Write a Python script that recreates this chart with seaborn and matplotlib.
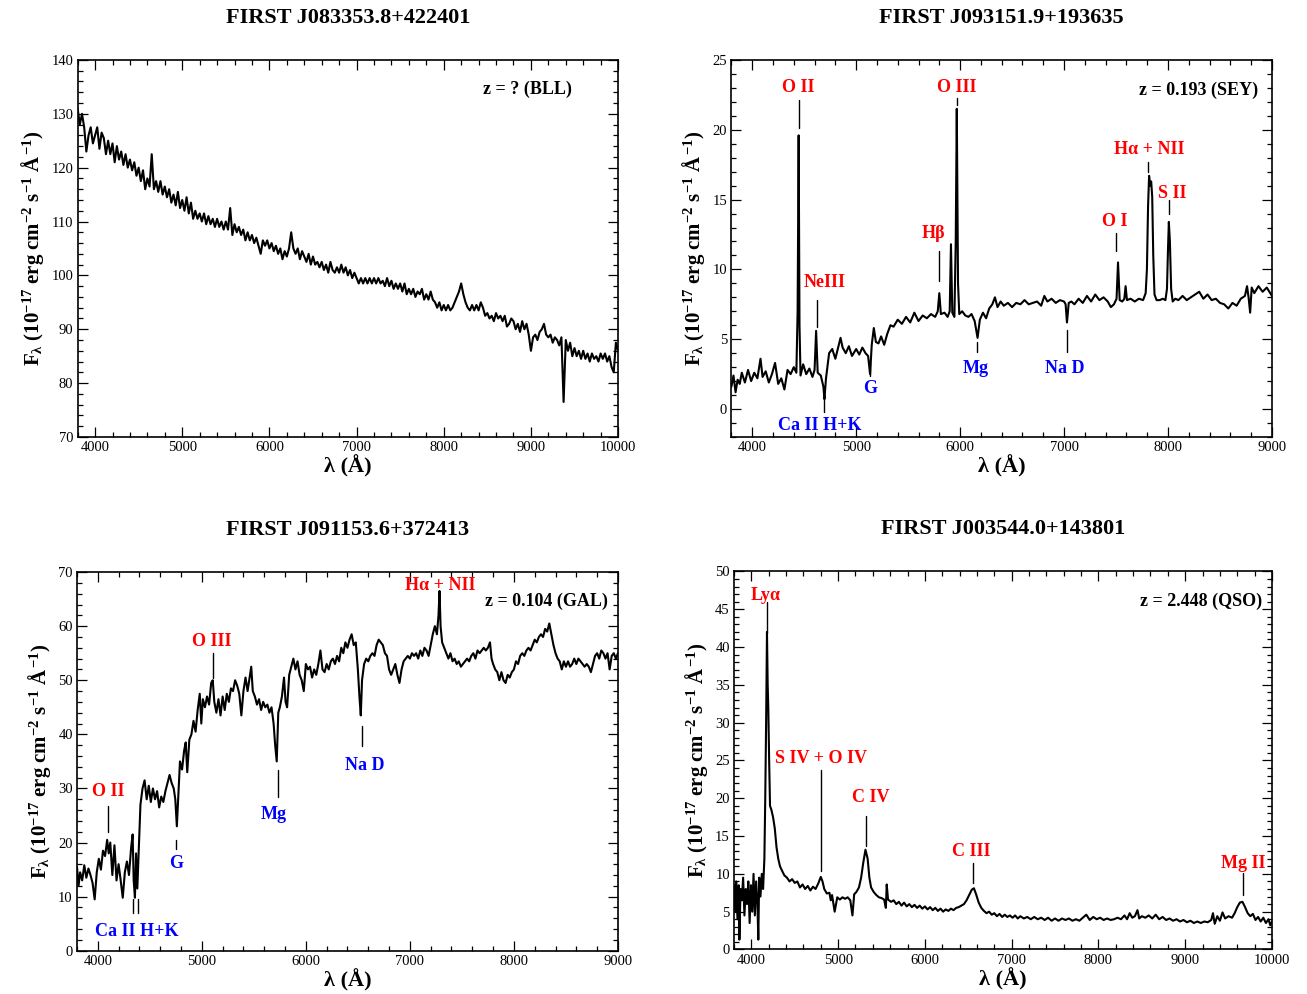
import matplotlib.pyplot as plt
import seaborn as sns
from matplotlib.ticker import MultipleLocator

# ---- spectrum 1: BL Lac, FIRST J083353.8+422401
wave_bll = [3800, 3825, 3850, 3875, 3900, 3925, 3950, 3975, 4000, 4025, 4050, 4075, 4100, 4125,
            4150, 4175, 4200, 4225, 4250, 4275, 4300, 4325, 4350, 4375, 4400, 4425, 4450, 4475,
            4500, 4525, 4550, 4575, 4600, 4625, 4650, 4675, 4700, 4725, 4750, 4775, 4800, 4825,
            4850, 4875, 4900, 4925, 4950, 4975, 5000, 5025, 5050, 5075, 5100, 5125, 5150, 5175,
            5200, 5225, 5250, 5275, 5300, 5325, 5350, 5375, 5400, 5425, 5450, 5475, 5500, 5525,
            5550, 5575, 5600, 5625, 5650, 5675, 5700, 5725, 5750, 5775, 5800, 5825, 5850, 5875,
            5900, 5925, 5950, 5975, 6000, 6025, 6050, 6075, 6100, 6125, 6150, 6175, 6200, 6225,
            6250, 6275, 6300, 6325, 6350, 6375, 6400, 6425, 6450, 6475, 6500, 6525, 6550, 6575,
            6600, 6625, 6650, 6675, 6700, 6725, 6750, 6775, 6800, 6825, 6850, 6875, 6900, 6925,
            6950, 6975, 7000, 7025, 7050, 7075, 7100, 7125, 7150, 7175, 7200, 7225, 7250, 7275,
            7300, 7325, 7350, 7375, 7400, 7425, 7450, 7475, 7500, 7525, 7550, 7575, 7600, 7625,
            7650, 7675, 7700, 7725, 7750, 7775, 7800, 7825, 7850, 7875, 7900, 7925, 7950, 7975,
            8000, 8025, 8050, 8075, 8100, 8125, 8150, 8175, 8200, 8225, 8250, 8275, 8300, 8325,
            8350, 8375, 8400, 8425, 8450, 8475, 8500, 8525, 8550, 8575, 8600, 8625, 8650, 8675,
            8700, 8725, 8750, 8775, 8800, 8825, 8850, 8875, 8900, 8925, 8950, 8975, 9000, 9025,
            9050, 9075, 9100, 9125, 9150, 9175, 9200, 9225, 9250, 9275, 9300, 9325, 9350, 9375,
            9400, 9425, 9450, 9475, 9500, 9525, 9550, 9575, 9600, 9625, 9650, 9675, 9700, 9725,
            9750, 9775, 9800, 9825, 9850, 9875, 9900, 9925, 9950, 9975, 10000]
flux_bll = [131, 128, 130, 127.5, 123, 126, 127.5, 124.5, 126, 127.5, 123.5, 126.5, 125.5, 122.5,
            125, 122.5, 124.5, 121, 124, 121.5, 123, 120.5, 122.5, 120, 121.5, 119.5, 121, 118.5,
            120, 117.5, 119.5, 116, 118, 116.5, 122.5, 116, 117.5, 115.5, 117.5, 115, 116.5, 114.5,
            116, 113.5, 115, 113, 115.5, 112.5, 114, 112, 114.5, 111.5, 113.5, 110.5, 112, 110.5,
            111.5, 110, 111.5, 109.5, 111, 109.5, 110.5, 109, 110.5, 109, 110, 108.5, 110, 108.5,
            112.5, 107.5, 109.5, 108, 109, 107.5, 108.5, 106.5, 108, 106.5, 107.5, 106, 107, 105.5,
            104, 106.5, 105.5, 106.5, 105, 106, 104.5, 105.5, 104, 105, 103, 104.5, 103.5, 105,
            108, 105, 104, 105, 103, 104.5, 103.5, 102.5, 104, 102, 103.5, 102, 102.5, 101.5,
            102.5, 101, 102, 100.5, 102.5, 101, 100.5, 101.5, 100.5, 102, 100.5, 101.5, 100, 101,
            99.5, 100.5, 99.5, 98.5, 99.5, 98.5, 99.5, 98.5, 99.5, 98.5, 99.5, 98.5, 99.5, 98.5,
            99, 98, 99.5, 98, 99, 97.5, 98.5, 97.5, 98.5, 97, 98.5, 96.5, 97.5, 96.5,
            97.5, 96, 97, 96.5, 97.5, 95.5, 96.5, 95.5, 97, 95.5, 95, 94, 95, 93.5,
            94.5, 93.5, 94.5, 93.5, 94, 95, 96, 97, 98.5, 96.5, 95, 94, 93.5, 94.5,
            93.5, 94.5, 93.5, 95, 94, 92.5, 93, 92, 92.5, 91.5, 93, 92, 92.5, 91.5,
            92.5, 90.5, 91, 92, 91.5, 90, 91, 89.5, 91.5, 90, 91, 89, 86, 88.5,
            89, 88, 89.5, 90, 91, 89, 88.5, 89, 87.5, 88.5, 88, 87, 88.5, 76.5,
            88, 86, 87.5, 85, 86.5, 85, 86, 84.5, 86, 84.5, 85.5, 84, 85.5, 84.5,
            85, 84, 85.5, 84.5, 85.5, 84, 85, 83, 82, 87.5, 86]

# ---- spectrum 2: Seyfert, FIRST J093151.9+193635
wave_sey = [3800, 3820, 3840, 3860, 3880, 3900, 3930, 3960, 3990, 4020, 4050, 4080, 4100, 4130,
            4160, 4190, 4220, 4250, 4280, 4310, 4340, 4370, 4400, 4425, 4437, 4447, 4455, 4465,
            4490, 4520, 4550, 4580, 4600, 4615, 4630, 4660, 4685, 4695, 4710, 4740, 4770, 4800,
            4830, 4850, 4870, 4900, 4930, 4960, 5000, 5030, 5060, 5090, 5115, 5134, 5150, 5170,
            5190, 5215, 5240, 5270, 5300, 5330, 5360, 5400, 5440, 5480, 5520, 5560, 5600, 5640,
            5680, 5720, 5760, 5785, 5800, 5815, 5850, 5880, 5900, 5912, 5925, 5945, 5958, 5968,
            5980, 5992, 6020, 6050, 6080, 6110, 6140, 6168, 6190, 6220, 6250, 6280, 6310, 6335,
            6360, 6390, 6420, 6460, 6500, 6540, 6580, 6620, 6660, 6700, 6740, 6780, 6810, 6840,
            6880, 6920, 6960, 7000, 7015, 7028, 7045, 7070, 7100, 7140, 7180, 7220, 7260, 7300,
            7340, 7380, 7420, 7450, 7480, 7505, 7519, 7535, 7560, 7580, 7592, 7605, 7640, 7680,
            7720, 7760, 7785, 7797, 7808, 7818, 7828, 7838, 7848, 7858, 7870, 7890, 7920, 7950,
            7975, 7990, 8000, 8008, 8018, 8030, 8045, 8070, 8100, 8140, 8180, 8220, 8260, 8300,
            8340, 8380, 8420, 8460, 8500, 8540, 8580, 8620, 8660, 8700, 8740, 8760, 8775, 8790,
            8805, 8830, 8870, 8910, 8950, 9000]
flux_sey = [1.6, 2.4, 1.2, 2.1, 1.8, 2.6, 1.9, 2.8, 2.0, 2.6, 2.2, 3.6, 2.3, 2.7,
            1.9, 2.5, 3.3, 1.8, 2.2, 1.4, 2.8, 2.5, 3.0, 2.6, 7.0, 19.6, 6.0, 2.4,
            3.2, 2.5, 2.9, 2.3, 2.8, 5.6, 2.6, 2.4, 1.6, 0.7, 2.2, 4.0, 4.3, 3.6,
            4.5, 5.1, 4.4, 4.0, 4.5, 3.8, 4.3, 3.9, 4.4, 4.0, 3.8, 2.5, 4.6, 5.8,
            4.8, 4.7, 5.2, 4.6, 5.4, 6.0, 5.9, 6.4, 6.1, 6.6, 6.2, 6.9, 6.3, 6.7,
            6.5, 6.8, 6.6, 7.0, 8.3, 6.8, 6.9, 6.6, 7.0, 11.8, 6.9, 6.6, 12.0, 21.5,
            9.0, 6.8, 7.0, 6.7, 6.6, 6.8, 6.3, 5.1, 6.4, 6.9, 6.5, 7.2, 7.5, 8.0,
            7.3, 7.7, 7.4, 7.6, 7.3, 7.6, 7.5, 7.8, 7.5, 7.6, 7.7, 7.4, 8.1, 7.7,
            7.9, 7.6, 7.8, 7.7, 7.5, 6.2, 7.6, 7.7, 7.5, 7.9, 7.6, 8.1, 7.7, 8.2,
            7.8, 8.0, 7.7, 7.3, 7.5, 7.9, 10.5, 7.8, 7.7, 7.9, 8.8, 7.8, 7.9, 7.7,
            7.9, 7.8, 8.3, 10.0, 14.5, 16.7, 16.0, 16.3, 15.2, 11.0, 8.2, 7.8, 7.8, 7.9,
            7.8, 8.6, 11.5, 13.4, 12.0, 8.6, 7.7, 7.9, 7.8, 8.1, 7.8, 8.0, 8.2, 8.4,
            7.9, 8.2, 7.8, 7.9, 7.6, 7.5, 7.2, 7.6, 7.4, 7.9, 8.1, 8.8, 8.0, 6.9,
            8.7, 8.3, 8.8, 8.4, 8.7, 8.1]

# ---- spectrum 3: galaxy, FIRST J091153.6+372413
wave_gal = [3800, 3815, 3830, 3850, 3870, 3890, 3910, 3930, 3950, 3970, 3990, 4010, 4030, 4050,
            4070, 4090, 4105, 4120, 4140, 4160, 4180, 4200, 4220, 4240, 4260, 4280, 4300, 4320,
            4335, 4345, 4357, 4368, 4380, 4395, 4410, 4430, 4450, 4470, 4490, 4510, 4530, 4550,
            4570, 4590, 4610, 4630, 4650, 4670, 4690, 4710, 4730, 4745, 4760, 4775, 4790, 4810,
            4830, 4845, 4860, 4880, 4900, 4920, 4940, 4960, 4980, 4995, 5010, 5030, 5050, 5070,
            5090, 5105, 5120, 5140, 5160, 5180, 5200, 5220, 5240, 5260, 5280, 5300, 5320, 5340,
            5360, 5380, 5400, 5420, 5440, 5460, 5475, 5490, 5510, 5530, 5550, 5570, 5590, 5610,
            5630, 5650, 5670, 5690, 5705, 5720, 5735, 5750, 5770, 5790, 5805, 5820, 5840, 5860,
            5880, 5900, 5920, 5940, 5960, 5980, 6000, 6020, 6040, 6060, 6080, 6100, 6120, 6140,
            6160, 6180, 6200, 6220, 6240, 6260, 6280, 6300, 6320, 6340, 6360, 6380, 6400, 6420,
            6440, 6460, 6480, 6500, 6515, 6528, 6540, 6560, 6580, 6600, 6620, 6640, 6660, 6680,
            6700, 6720, 6740, 6760, 6780, 6800, 6820, 6840, 6860, 6880, 6900, 6920, 6940, 6960,
            6980, 7000, 7020, 7040, 7060, 7080, 7100, 7120, 7140, 7160, 7180, 7200, 7220, 7240,
            7260, 7275, 7285, 7295, 7310, 7330, 7350, 7370, 7390, 7410, 7430, 7450, 7470, 7490,
            7510, 7530, 7550, 7570, 7590, 7610, 7630, 7650, 7670, 7690, 7710, 7730, 7750, 7770,
            7785, 7800, 7820, 7840, 7860, 7880, 7900, 7920, 7940, 7960, 7980, 8000, 8020, 8040,
            8060, 8080, 8100, 8120, 8140, 8160, 8180, 8200, 8220, 8240, 8260, 8280, 8300, 8320,
            8340, 8360, 8380, 8400, 8420, 8440, 8460, 8480, 8500, 8520, 8540, 8560, 8580, 8600,
            8620, 8640, 8660, 8680, 8700, 8720, 8740, 8760, 8780, 8800, 8820, 8840, 8860, 8880,
            8900, 8920, 8940, 8960, 8980, 9000]
flux_gal = [15.5, 12.0, 14.5, 13.0, 15.8, 13.5, 15.2, 14.0, 12.5, 9.5, 14.5, 17.0, 15.0, 18.5,
            17.5, 20.5, 18.0, 20.0, 14.0, 19.5, 13.0, 16.0, 13.0, 9.8, 14.5, 16.5, 14.0, 19.0,
            21.5, 13.0, 9.8, 18.0, 11.5, 19.0, 27.0, 30.0, 31.5, 28.0, 30.5, 27.5, 30.0, 28.0,
            29.5, 26.5, 28.5, 27.5, 29.5, 31.0, 32.5, 31.0, 30.0, 28.0, 23.0, 29.0, 35.0, 33.5,
            37.0, 38.5, 33.0, 39.0, 40.0, 42.5, 40.5, 44.5, 47.5, 42.0, 46.5, 45.0, 47.0, 45.5,
            49.5, 50.0, 46.0, 44.0, 46.5, 43.5, 47.0, 44.5, 47.5, 46.0, 48.5, 48.0, 50.0, 49.0,
            47.5, 43.5, 48.0, 50.5, 48.0, 50.5, 52.5, 48.0, 47.0, 45.5, 46.5, 44.5, 46.0, 45.0,
            45.5, 44.0, 45.0, 42.0, 38.0, 35.0, 44.0, 45.0, 47.0, 50.5, 46.0, 45.0, 51.0, 52.5,
            54.0, 52.0, 53.5, 51.0, 50.0, 48.0, 53.0, 52.0, 52.5, 50.5, 52.0, 51.0, 53.0, 55.5,
            52.0, 51.5, 53.0, 52.0, 53.5, 54.0, 53.0, 54.5, 53.5, 56.0, 55.0, 57.0, 56.0, 57.5,
            58.5, 56.5, 57.0, 52.0, 47.0, 43.5, 50.0, 53.0, 54.0, 53.5, 54.5, 55.0, 54.5, 56.5,
            57.5, 57.0, 56.5, 55.0, 54.5, 52.0, 51.0, 52.0, 53.0, 51.0, 49.5, 52.0, 53.5, 54.0,
            54.5, 54.0, 55.0, 54.5, 55.0, 54.0, 55.5, 54.5, 56.0, 55.5, 54.5, 56.5, 58.5, 60.0,
            58.5, 62.0, 66.5, 60.0, 57.0, 56.0, 55.0, 54.0, 55.0, 53.5, 54.0, 53.0, 53.5, 52.5,
            53.0, 53.5, 54.0, 53.5, 54.5, 55.0, 54.0, 55.5, 55.0, 55.5, 56.0, 55.5, 56.0, 57.0,
            54.0, 53.0, 52.0, 51.5, 50.0, 51.5, 50.0, 49.5, 51.0, 50.5, 51.5, 52.0, 53.5, 53.0,
            54.5, 55.0, 54.5, 55.5, 56.0, 55.5, 56.5, 57.5, 57.0, 58.0, 58.5, 58.0, 59.5, 59.0,
            60.5, 58.5, 56.5, 55.0, 54.0, 53.5, 52.0, 53.5, 52.5, 53.5, 52.5, 53.0, 54.0, 53.0,
            54.0, 53.5, 53.0, 52.5, 53.0, 52.5, 51.5, 53.0, 54.5, 55.0, 54.0, 55.5, 55.0, 54.0,
            55.0, 52.0, 54.5, 55.0, 54.0, 55.0]

# ---- spectrum 4: quasar, FIRST J003544.0+143801
wave_qso = [3800, 3815, 3825, 3840, 3855, 3862, 3875, 3890, 3905, 3920, 3935, 3950, 3965, 3980,
            3995, 4010, 4025, 4040, 4055, 4070, 4080, 4090, 4105, 4120, 4135, 4150, 4160, 4170,
            4180, 4188, 4195, 4205, 4215, 4230, 4250, 4270, 4290, 4310, 4330, 4350, 4380, 4410,
            4440, 4470, 4500, 4530, 4560, 4590, 4620, 4650, 4680, 4710, 4740, 4770, 4800, 4820,
            4840, 4870, 4900, 4915, 4930, 4960, 4990, 5020, 5050, 5080, 5110, 5140, 5165, 5185,
            5210, 5240, 5265, 5290, 5315, 5340, 5360, 5380, 5410, 5440, 5470, 5500, 5530, 5550,
            5560, 5575, 5610, 5640, 5670, 5700, 5730, 5760, 5790, 5820, 5850, 5880, 5910, 5940,
            5970, 6000, 6030, 6060, 6090, 6120, 6150, 6180, 6210, 6240, 6270, 6300, 6330, 6360,
            6390, 6420, 6450, 6480, 6510, 6540, 6565, 6590, 6620, 6650, 6680, 6710, 6740, 6770,
            6800, 6830, 6860, 6890, 6920, 6950, 6980, 7010, 7040, 7070, 7100, 7140, 7180, 7220,
            7260, 7300, 7340, 7380, 7420, 7460, 7500, 7540, 7580, 7620, 7660, 7700, 7740, 7780,
            7820, 7860, 7900, 7940, 7980, 8020, 8060, 8100, 8140, 8180, 8220, 8260, 8300, 8330,
            8360, 8390, 8420, 8450, 8470, 8500, 8540, 8580, 8620, 8660, 8700, 8740, 8780, 8820,
            8860, 8900, 8940, 8980, 9020, 9060, 9100, 9140, 9180, 9220, 9260, 9300, 9320, 9340,
            9370, 9400, 9430, 9460, 9500, 9540, 9570, 9600, 9630, 9660, 9690, 9720, 9750, 9780,
            9810, 9840, 9870, 9900, 9930, 9960, 9980, 10000]
flux_qso = [8.5, 5.0, 9.0, 4.0, 8.5, 1.3, 8.0, 6.5, 9.5, 4.5, 8.0, 6.0, 9.0, 3.5,
            8.5, 5.0, 10.0, 4.5, 9.0, 6.0, 1.3, 9.5, 7.0, 10.0, 8.0, 12.0, 20.0, 30.0,
            42.0, 35.0, 32.0, 25.0, 19.0, 18.5, 17.5, 16.0, 13.5, 12.0, 11.0, 10.5, 9.8, 9.5,
            9.0, 9.3, 8.8, 9.0, 8.2, 8.6, 8.0, 8.4, 7.8, 8.3, 8.0, 8.7, 9.6, 9.0,
            8.0, 7.4, 7.5, 6.5, 7.2, 5.0, 6.9, 6.6, 6.9, 6.7, 6.9, 6.5, 4.5, 7.3,
            7.6, 8.2, 9.5, 11.5, 13.2, 12.0, 9.5, 8.2, 7.6, 7.2, 6.9, 6.8, 6.6, 5.5,
            8.6, 6.6, 6.3, 6.5, 6.0, 6.3, 5.8, 6.2, 5.7, 6.0, 5.6, 5.9, 5.5, 5.8,
            5.4, 5.7, 5.3, 5.6, 5.2, 5.5, 5.1, 5.4, 5.0, 5.3, 5.1, 5.4, 5.2, 5.5,
            5.6, 5.8, 6.0, 6.5, 7.2, 7.9, 8.1, 7.3, 6.2, 5.5, 5.1, 4.8, 5.0, 4.6,
            4.8, 4.4, 4.7, 4.3, 4.6, 4.3, 4.5, 4.2, 4.5, 4.1, 4.4, 4.1, 4.3, 4.0,
            4.3, 4.0, 4.2, 3.9, 4.2, 3.8, 4.1, 3.8, 4.1, 3.9, 4.1, 3.8, 4.0, 3.8,
            4.2, 4.6, 3.9, 4.3, 4.0, 4.2, 3.9, 4.1, 3.9, 4.0, 4.2, 4.0, 4.5, 4.0,
            4.8, 4.2, 4.4, 5.2, 4.1, 4.4, 4.2, 4.5, 4.1, 4.6, 4.0, 4.3, 3.9, 4.1,
            3.8, 4.0, 3.7, 3.9, 3.6, 3.8, 3.5, 3.7, 3.5, 3.7, 3.6, 3.9, 4.8, 3.4,
            4.4, 3.8, 4.9, 4.1, 4.4, 4.2, 4.8, 5.6, 6.2, 6.3, 5.6, 4.8, 4.4, 4.7,
            3.9, 4.3, 3.7, 4.2, 3.5, 4.0, 3.2, 3.7]

titles = ["FIRST J083353.8+422401", "FIRST J093151.9+193635",
          "FIRST J091153.6+372413", "FIRST J003544.0+143801"]
redshifts = ["z = ? (BLL)", "z = 0.193 (SEY)", "z = 0.104 (GAL)", "z = 2.448 (QSO)"]

# line marks: label, colour, line x, line top, line bottom, text x, text y
marks_sey = [("O II", "red", 4447, 22.1, 20.1, 4447, 23.0),
             ("NeIII", "red", 4620, 7.8, 5.9, 4700, 9.05),
             ("O III", "red", 5968, 22.3, 21.8, 5964, 23.0),
             ("H\u03b2", "red", 5801, 11.3, 9.2, 5747, 12.6),
             ("O I", "red", 7500, 12.6, 11.3, 7490, 13.4),
             ("H\u03b1 + NII", "red", 7810, 17.7, 17.0, 7819, 18.6),
             ("S II", "red", 8008, 15.0, 14.0, 8039, 15.45),
             ("Ca II H+K", "blue", 4694, 0.64, -0.2, 4647, -1.15),
             ("G", "blue", 5134, 3.4, 2.4, 5134, 1.5),
             ("Mg", "blue", 6162, 4.8, 4.1, 6146, 2.9),
             ("Na D", "blue", 7027, 5.66, 4.1, 7005, 2.9)]
marks_gal = [("O II", "red", 4097, 26.8, 22.0, 4097, 29.4),
             ("O III", "red", 5104, 55.0, 50.4, 5094, 57.1),
             ("H\u03b1 + NII", "red", None, 0, 0, 7288, 67.6),
             ("Ca II H+K", "blue", 4340, 9.6, 6.9, 4374, 3.5),
             ("", "blue", 4384, 9.6, 6.9, 4384, 3.5),
             ("G", "blue", 4755, 20.5, 18.9, 4755, 16.1),
             ("Mg", "blue", 5729, 33.4, 28.5, 5691, 25.1),
             ("Na D", "blue", 6539, 41.6, 37.9, 6570, 34.3)]
marks_qso = [("Ly\u03b1", "red", 4180, 45.9, 41.8, 4161, 46.8),
             ("S IV + O IV", "red", 4808, 23.8, 10.4, 4808, 25.3),
             ("C IV", "red", 5316, 17.7, 13.7, 5374, 20.1),
             ("C III", "red", 6560, 11.4, 8.8, 6537, 13.0),
             ("Mg II", "red", 9666, 10.1, 7.2, 9666, 11.4)]

sns.set_style("ticks")
plt.rcParams['font.family'] = ['Liberation Serif', 'DejaVu Serif']
plt.rcParams['mathtext.fontset'] = 'custom'
plt.rcParams['mathtext.rm'] = 'Liberation Serif:bold'
plt.rcParams['mathtext.it'] = 'Liberation Serif:bold'
plt.rcParams['mathtext.bf'] = 'Liberation Serif:bold'
for key in ['text.color', 'axes.labelcolor', 'xtick.color', 'ytick.color', 'axes.edgecolor']:
    plt.rcParams[key] = 'black'

fig = plt.figure(figsize=(13.07, 9.94), dpi=100)
boxes = [[0.0594, 0.5604, 0.4135, 0.3793], [0.5596, 0.5604, 0.4136, 0.3793],
         [0.0589, 0.0435, 0.4139, 0.3810], [0.5616, 0.0448, 0.4116, 0.3803]]
spectra = [(wave_bll, flux_bll), (wave_sey, flux_sey), (wave_gal, flux_gal), (wave_qso, flux_qso)]
xlims = [(3800, 10000), (3800, 9000), (3800, 9000), (3800, 10000)]
ylims = [(70, 140), (-2, 25), (0, 70), (0, 50)]
ysteps = [(10, 2), (5, 1), (10, 2), (5, 1)]
marks = [[], marks_sey, marks_gal, marks_qso]
zpos = [(0.915, 0.923), (0.974, 0.920), (0.982, 0.922), (0.981, 0.920)]

for i in range(4):
    ax = fig.add_axes(boxes[i])
    w, f = spectra[i]
    sns.lineplot(x=w, y=f, ax=ax, color="black", lw=1.5)
    ax.set_xlim(*xlims[i])
    ax.set_ylim(*ylims[i])
    ax.xaxis.set_major_locator(MultipleLocator(1000))
    ax.xaxis.set_minor_locator(MultipleLocator(200))
    ax.yaxis.set_major_locator(MultipleLocator(ysteps[i][0]))
    ax.yaxis.set_minor_locator(MultipleLocator(ysteps[i][1]))
    ax.tick_params(which="both", direction="in", top=True, right=True, labelsize=10.5, width=0.9)
    ax.tick_params(which="major", length=7, pad=3)
    ax.tick_params(which="minor", length=3.5)
    for s in ax.spines.values():
        s.set_linewidth(1.2)
        s.set_color("black")
    ax.set_xlabel("\u03bb (\u00c5)", fontsize=16, fontweight="bold", labelpad=1)
    ax.set_ylabel(r"F$_{\lambda}$ (10$^{-17}$ erg cm$^{-2}$ s$^{-1}$ $\AA^{-1}$)",
                  fontsize=15, fontweight="bold", labelpad=4)
    ax.text(0.5, 1.111, titles[i], transform=ax.transAxes, ha="center", va="center",
            fontsize=16, fontweight="bold")
    ax.text(zpos[i][0], zpos[i][1], redshifts[i], transform=ax.transAxes, ha="right",
            va="center", fontsize=13, fontweight="bold")
    for lab, col, lx, y1, y2, tx, ty in marks[i]:
        if lx is not None:
            ax.plot([lx, lx], [y1, y2], color="black", lw=1)
        if lab:
            ax.text(tx, ty, lab, color=col, ha="center", va="center",
                    fontsize=13, fontweight="bold")

fig.savefig("out.png", dpi=100)
